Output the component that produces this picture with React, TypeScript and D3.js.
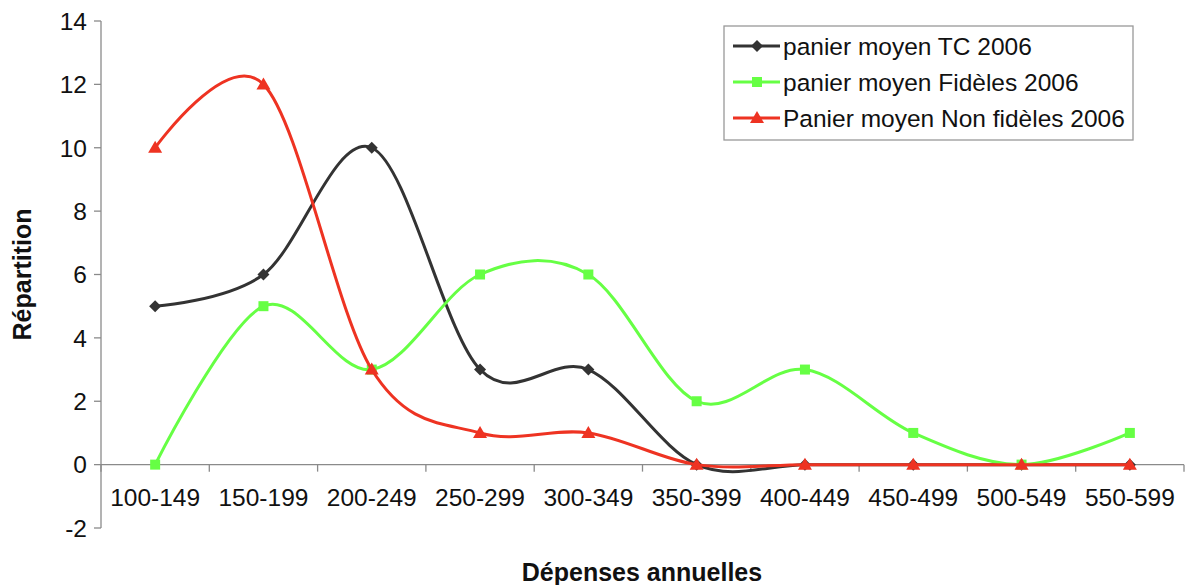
import React, { useEffect } from "react";
import * as d3 from "d3";

const categories = [
  "100-149",
  "150-199",
  "200-249",
  "250-299",
  "300-349",
  "350-399",
  "400-449",
  "450-499",
  "500-549",
  "550-599",
];
const tcValues = [5, 6, 10, 3, 3, 0, 0, 0, 0, 0];
const fidelesValues = [0, 5, 3, 6, 6, 2, 3, 1, 0, 1];
const nonFidelesValues = [10, 12, 3, 1, 1, 0, 0, 0, 0, 0];
const yTicks = [-2, 0, 2, 4, 6, 8, 10, 12, 14];

const series = [
  { name: "panier moyen TC 2006", values: tcValues, color: "#333333", marker: "diamond" },
  { name: "panier moyen Fidèles 2006", values: fidelesValues, color: "#66ff44", marker: "square" },
  { name: "Panier moyen Non fidèles 2006", values: nonFidelesValues, color: "#ee3322", marker: "triangle" },
];

const W = 1188;
const H = 585;
const FONT = "'Liberation Sans', Arial, sans-serif";
const FS = 24.5;

function Marker({ kind, x, y, color }: { kind: string; x: number; y: number; color: string }) {
  if (kind === "diamond") {
    return <path d={`M${x},${y - 6}L${x + 6},${y}L${x},${y + 6}L${x - 6},${y}Z`} fill={color} />;
  }
  if (kind === "square") {
    return <rect x={x - 5} y={y - 5} width={10} height={10} fill={color} />;
  }
  return <path d={`M${x},${y - 7}L${x + 7},${y + 5}L${x - 7},${y + 5}Z`} fill={color} />;
}

export default function App() {
  useEffect(() => {
    document.body.style.margin = "0";
  }, []);

  const x = d3.scaleBand<string>().domain(categories).range([101, 1184]);
  const y = d3.scaleLinear().domain([-2, 14]).range([528, 21]);
  const cx = (c: string) => (x(c) ?? 0) + x.bandwidth() / 2;

  const line = d3
    .line<number>()
    .x((_, i) => cx(categories[i]))
    .y((d) => y(d))
    .curve(d3.curveCatmullRom.alpha(0));

  const axisColor = "#8a8a8a";
  const boundaries = categories.map((c) => x(c) ?? 0).concat([x.range()[1]]);

  return (
    <svg width={W} height={H} style={{ display: "block" }} fontFamily={FONT}>
      <rect width={W} height={H} fill="#fff" />
      {/* y axis */}
      <line x1={x.range()[0]} x2={x.range()[0]} y1={y(14)} y2={y(-2)} stroke={axisColor} strokeWidth={1.3} />
      {yTicks.map((t) => (
        <g key={t}>
          <line x1={x.range()[0] - 7} x2={x.range()[0]} y1={y(t)} y2={y(t)} stroke={axisColor} strokeWidth={1.3} />
          <text x={87} y={y(t)} dy="0.36em" textAnchor="end" fontSize={FS} fill="#111">
            {t}
          </text>
        </g>
      ))}
      {/* x axis at zero */}
      <line x1={x.range()[0]} x2={x.range()[1]} y1={y(0)} y2={y(0)} stroke={axisColor} strokeWidth={1.3} />
      {boundaries.map((b, i) => (
        <line key={i} x1={b} x2={b} y1={y(0)} y2={y(0) + 7} stroke={axisColor} strokeWidth={1.3} />
      ))}
      {categories.map((c) => (
        <text key={c} x={cx(c)} y={506} textAnchor="middle" fontSize={FS} fill="#111">
          {c}
        </text>
      ))}
      {/* series */}
      {series.map((s) => (
        <g key={s.name}>
          <path d={line(s.values) ?? ""} fill="none" stroke={s.color} strokeWidth={3} />
          {s.values.map((v, i) => (
            <Marker key={i} kind={s.marker} x={cx(categories[i])} y={y(v)} color={s.color} />
          ))}
        </g>
      ))}
      {/* titles */}
      <text
        transform={`translate(31,${(y(14) + y(-2)) / 2}) rotate(-90)`}
        textAnchor="middle"
        fontSize={25}
        fontWeight="bold"
        fill="#111"
      >
        Répartition
      </text>
      <text x={642} y={581} textAnchor="middle" fontSize={25} fontWeight="bold" fill="#111">
        Dépenses annuelles
      </text>
      {/* legend */}
      <rect x={724} y={26} width={409} height={114} fill="#fff" stroke="#999" strokeWidth={1.3} />
      {series.map((s, i) => {
        const ly = 46 + i * 36;
        return (
          <g key={s.name}>
            <line x1={733} x2={780} y1={ly} y2={ly} stroke={s.color} strokeWidth={3} />
            <Marker kind={s.marker} x={757} y={ly} color={s.color} />
            <text x={783} y={ly} dy="0.36em" fontSize={FS} fill="#111">
              {s.name}
            </text>
          </g>
        );
      })}
    </svg>
  );
}
